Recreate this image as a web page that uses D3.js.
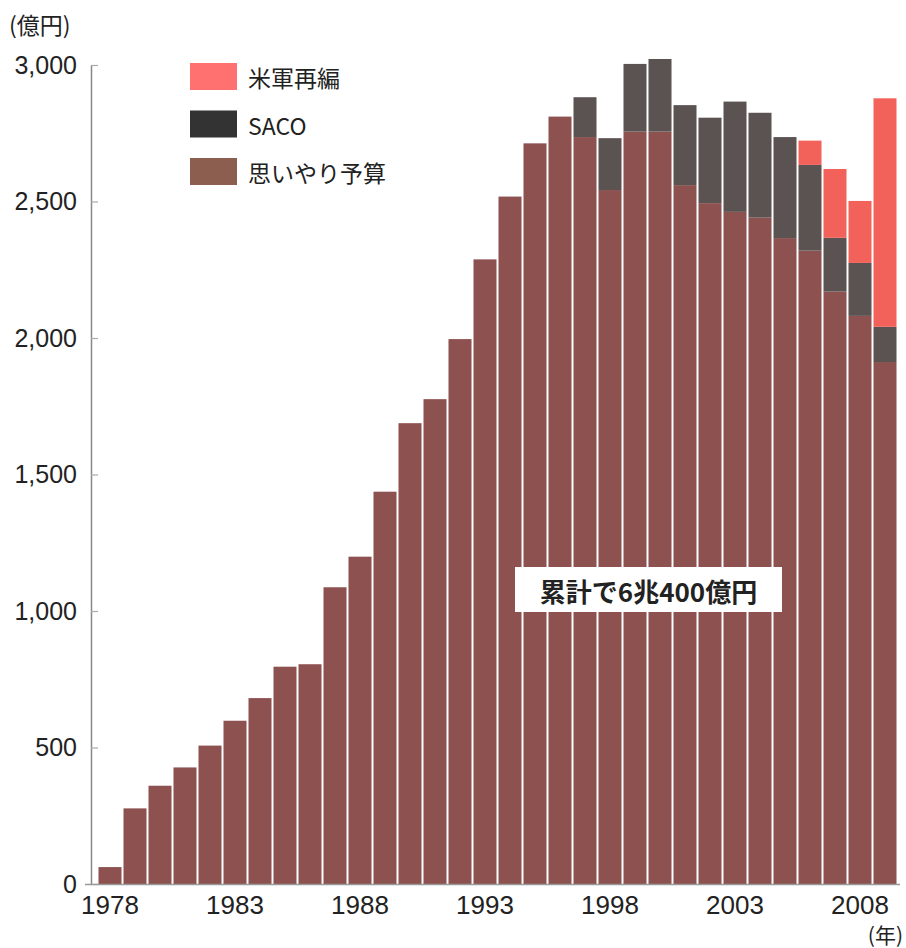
<!DOCTYPE html>
<html>
<head>
<meta charset="utf-8">
<script src="https://cdn.jsdelivr.net/npm/d3@7"></script>
<style>
  html, body { margin: 0; padding: 0; background: #fff; }
  svg { display: block; }
  text { font-family: "Liberation Sans", Arial, "Noto Sans CJK JP", sans-serif; fill: #222; }
  .jp { font-family: "Noto Sans CJK JP", "Liberation Sans", sans-serif; }
</style>
</head>
<body>
<svg id="chart" width="906" height="948"></svg>
<script>
// 年度
const years = [1978, 1979, 1980, 1981, 1982, 1983, 1984, 1985, 1986, 1987,
               1988, 1989, 1990, 1991, 1992, 1993, 1994, 1995, 1996, 1997,
               1998, 1999, 2000, 2001, 2002, 2003, 2004, 2005, 2006, 2007,
               2008, 2009];
// 思いやり予算（億円）
const omoiyari = [62, 277, 360, 427, 507, 598, 681, 796, 805, 1087,
                  1199, 1437, 1688, 1776, 1996, 2288, 2518, 2713, 2811, 2736,
                  2542, 2756, 2756, 2560, 2494, 2462, 2441, 2366, 2320, 2170,
                  2081, 1912];
// SACO関係経費（億円）
const saco = [0, 0, 0, 0, 0, 0, 0, 0, 0, 0,
              0, 0, 0, 0, 0, 0, 0, 0, 0, 146,
              190, 248, 266, 293, 313, 404, 384, 370, 314, 197,
              194, 129];
// 米軍再編関係経費（億円）
const beigun = [0, 0, 0, 0, 0, 0, 0, 0, 0, 0,
                0, 0, 0, 0, 0, 0, 0, 0, 0, 0,
                0, 0, 0, 0, 0, 0, 0, 0, 89, 252,
                227, 837];

const seriesKeys = ["思いやり予算", "SACO", "米軍再編"];
const yTicks = [0, 500, 1000, 1500, 2000, 2500, 3000];
const xTickYears = [1978, 1983, 1988, 1993, 1998, 2003, 2008];

const barColors = { "思いやり予算": "#8d5150", "SACO": "#5b5252", "米軍再編": "#f2625b" };
const legendColors = { "思いやり予算": "#8b5e50", "SACO": "#333333", "米軍再編": "#ff7070" };

const svg = d3.select("#chart");

const x = d3.scaleBand()
  .domain(years)
  .range([97.5, 897.5])
  .paddingInner(0.08)
  .paddingOuter(0.04);

const y = d3.scaleLinear().domain([0, 3000]).range([884, 65]);

// stacked table
const table = years.map((yr, i) => ({
  year: yr,
  "思いやり予算": omoiyari[i],
  "SACO": saco[i],
  "米軍再編": beigun[i]
}));
const stacked = d3.stack().keys(seriesKeys)(table);

// bars
svg.append("g")
  .selectAll("g")
  .data(stacked)
  .join("g")
  .attr("fill", d => barColors[d.key])
  .selectAll("rect")
  .data(d => d.filter(p => p[1] - p[0] > 0))
  .join("rect")
  .attr("x", d => x(d.data.year))
  .attr("width", x.bandwidth())
  .attr("y", d => y(d[1]))
  .attr("height", d => y(d[0]) - y(d[1]));

// y axis (ticks point inward)
const yAxis = svg.append("g")
  .attr("transform", "translate(91,0)")
  .call(d3.axisLeft(y)
    .tickValues(yTicks)
    .tickFormat(d3.format(","))
    .tickSize(-7)
    .tickSizeOuter(0)
    .tickPadding(14));
yAxis.select(".domain").attr("stroke", "#888").attr("stroke-width", 1.5);
yAxis.selectAll(".tick line").attr("stroke", "#aaa").attr("stroke-width", 1.2);
yAxis.selectAll(".tick text")
  .attr("font-size", 25)
  .style("font-family", "'Liberation Sans', Arial, sans-serif")
  .attr("fill", "#222");

// baseline
svg.append("line")
  .attr("x1", 85).attr("x2", 900)
  .attr("y1", y(0) + 0.5).attr("y2", y(0) + 0.5)
  .attr("stroke", "#999").attr("stroke-width", 1.5);

// x axis labels
const xAxis = svg.append("g")
  .attr("transform", `translate(0,${y(0)})`)
  .call(d3.axisBottom(x)
    .tickValues(xTickYears)
    .tickSize(0)
    .tickPadding(12));
xAxis.select(".domain").remove();
xAxis.selectAll(".tick text")
  .attr("font-size", 26)
  .style("font-family", "'Liberation Sans', Arial, sans-serif")
  .attr("fill", "#222");

// unit labels
svg.append("text")
  .attr("class", "jp")
  .attr("x", 9).attr("y", 34)
  .attr("font-size", 23)
  .text("(億円)");
svg.append("text")
  .attr("class", "jp")
  .attr("x", 903).attr("y", 943)
  .attr("text-anchor", "end")
  .attr("font-size", 21)
  .text("(年)");

// legend
const legendKeys = ["米軍再編", "SACO", "思いやり予算"];
const legend = svg.append("g")
  .selectAll("g")
  .data(legendKeys)
  .join("g")
  .attr("transform", (d, i) => `translate(190,${63 + i * 47.5})`);
legend.append("rect")
  .attr("width", 47).attr("height", 27)
  .attr("fill", d => legendColors[d]);
legend.append("text")
  .attr("class", "jp")
  .attr("x", 58).attr("y", 14)
  .attr("dominant-baseline", "central")
  .attr("font-size", 23)
  .text(d => d);

// total annotation
const note = svg.append("g").attr("transform", "translate(515,567)");
note.append("rect").attr("width", 267).attr("height", 45).attr("fill", "#fff");
note.append("text")
  .attr("class", "jp")
  .attr("x", 133.5).attr("y", 23)
  .attr("text-anchor", "middle")
  .attr("dominant-baseline", "central")
  .attr("font-size", 26)
  .attr("font-weight", "bold")
  .text("累計で6兆400億円");
</script>
</body>
</html>
